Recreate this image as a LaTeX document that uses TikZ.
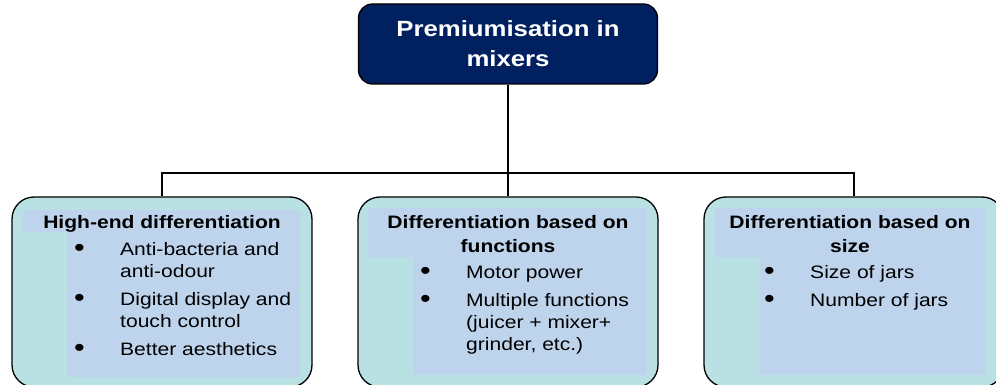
\documentclass[tikz,border=0pt]{standalone}
\usepackage{fontspec}
\setmainfont[FakeStretch=1.17]{Liberation Sans}
\usetikzlibrary{positioning}
\definecolor{navy}{RGB}{0,32,96}
\definecolor{tealfill}{RGB}{185,224,226}
\definecolor{innerblue}{RGB}{190,212,236}
\tikzset{
  topbox/.style={draw=black, line width=1.3pt, fill=navy, rounded corners=14pt,
    minimum width=299pt, minimum height=80pt, inner sep=0pt, text=white,
    font=\bfseries\fontsize{22}{30}\selectfont, align=center},
  branchbox/.style={draw=black, line width=1.3pt, fill=tealfill, rounded corners=22pt,
    minimum width=300pt, minimum height=190pt},
  innerfill/.style={fill=innerblue},
  heading/.style={font=\bfseries\fontsize{18}{24}\selectfont, align=center,
    inner sep=0pt, anchor=north},
  itemlist/.style={font=\fontsize{18}{22}\selectfont, inner sep=0pt, anchor=north west},
  connector/.style={draw=black, line width=1.6pt},
}
\newcommand\blt{{\fontsize{26}{22}\selectfont\raisebox{-1pt}{\textbullet}}}
\newcommand\bulletlist[1]{\begin{tabular}{@{}p{46pt}@{}l@{}}#1\end{tabular}}

\begin{document}
\begin{tikzpicture}[x=1pt, y=-1pt]
  \useasboundingbox (0,0) rectangle (996,385);

  \node[topbox] (top) at (508,44) {Premiumisation in\\mixers};

  \node[branchbox] (b1) at (162,292) {};
  \node[branchbox] (b2) at (508,292) {};
  \node[branchbox] (b3) at (854,292) {};

  \fill[innerfill] (23,210) rectangle (300,232);
  \fill[innerfill] (67,232) rectangle (300,377);
  \fill[innerfill] (368,208) rectangle (647,257);
  \fill[innerfill] (413,257) rectangle (647,375);
  \fill[innerfill] (715,208) rectangle (985,257);
  \fill[innerfill] (760,257) rectangle (985,375);

  \node[heading] (h1) at (162,215) {High-end differentiation};
  \node[heading] (h2) at (508,215) {Differentiation based on\\functions};
  \node[heading] (h3) at (850,215) {Differentiation based on\\size};

  \node[itemlist] (l1) at (74,240) {\bulletlist{%
    \blt & Anti-bacteria and\\ & anti-odour\\[6pt]
    \blt & Digital display and\\ & touch control\\[6pt]
    \blt & Better aesthetics}};
  \node[itemlist] (l2) at (420,263) {\bulletlist{%
    \blt & Motor power\\[6pt]
    \blt & Multiple functions\\ & (juicer + mixer+\\ & grinder, etc.)}};
  \node[itemlist] (l3) at (764,263) {\bulletlist{%
    \blt & Size of jars\\[6pt]
    \blt & Number of jars}};

  \coordinate (bus) at (508,173);
  \draw[connector] (top.south) -- (bus);
  \draw[connector] (b1.north) |- (b3.north |- bus) -- (b3.north);
  \draw[connector] (bus) -- (b2.north);
\end{tikzpicture}
\end{document}
